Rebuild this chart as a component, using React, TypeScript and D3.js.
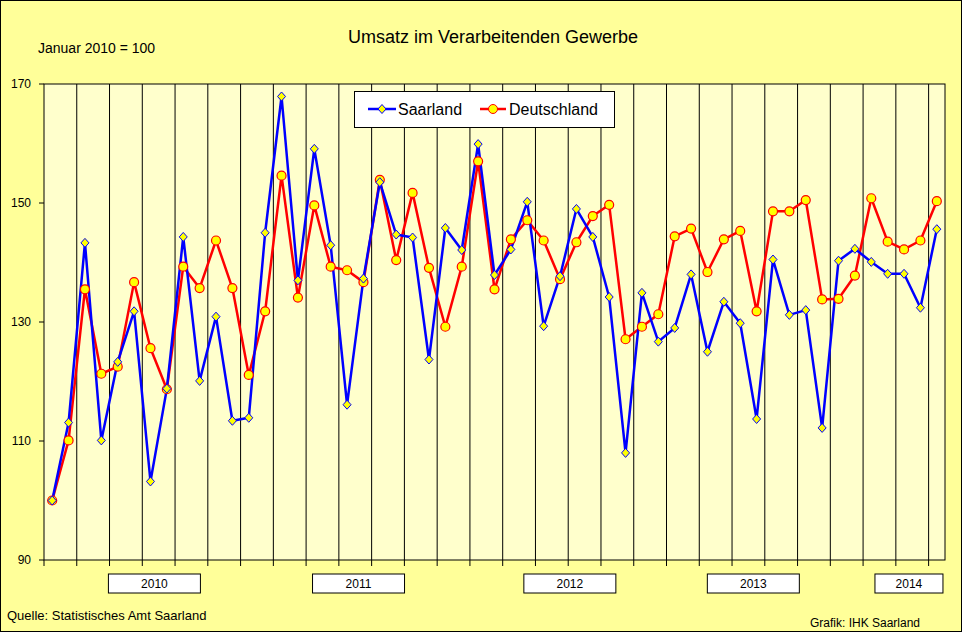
import React from 'react';
import * as d3 from 'd3';

// Monatswerte Jan 2010 .. Jul 2014 (Januar 2010 = 100)
const saarland = [100, 113.1, 143.3, 110.1, 123.3, 131.8, 103.2, 118.8, 144.3, 120.1, 130.9, 113.4,
  113.9, 145.0, 167.9, 137.0, 159.1, 142.9, 116.1, 137.3, 153.5, 144.7, 144.2, 123.7,
  145.8, 142.1, 159.9, 137.9, 142.2, 150.2, 129.3, 137.7, 149.0, 144.3, 134.2, 108.0,
  134.9, 126.7, 129.0, 138.0, 125.0, 133.4, 129.8, 113.7, 140.5, 131.2, 132.0, 112.2,
  140.3, 142.3, 140.1, 138.1, 138.1, 132.4, 145.6];
const deutschland = [100, 110.1, 135.5, 121.3, 122.5, 136.7, 125.6, 118.7, 139.3, 135.7, 143.7, 135.7,
  121.1, 131.8, 154.6, 134.1, 149.6, 139.3, 138.7, 136.7, 153.9, 140.4, 151.7, 139.1,
  129.2, 139.3, 157.0, 135.5, 143.9, 147.1, 143.7, 137.2, 143.4, 147.8, 149.7, 127.1,
  129.2, 131.3, 144.4, 145.7, 138.4, 143.9, 145.3, 131.8, 148.6, 148.6, 150.5, 133.8,
  133.9, 137.8, 150.8, 143.5, 142.2, 143.7, 150.3];
const yTicks = [90, 110, 130, 150, 170];
const yearLabels = ['2010', '2011', '2012', '2013', '2014'];
const yearPos = [6.24, 18.7, 31.6, 42.8, 52.3];

const W = 962, H = 632;
const left = 44, right = 945, top = 84, bottom = 560;
const n = saarland.length;
const font = 'Arial, "Liberation Sans", sans-serif';

const x = d3.scaleLinear().domain([-0.5, n - 0.5]).range([left, right]);
const y = d3.scaleLinear().domain([90, 170]).range([bottom, top]);
const line = d3.line<number>().x((_, i) => x(i)).y(d => y(d));

export default function App() {
  const grid = d3.range(1.5, n - 1, 2);
  const ticks = d3.range(-0.5, n, 2);
  return (
    <svg width={W} height={H} style={{ position: 'absolute', left: 0, top: 0 }} fontFamily={font}>
      <rect x={0.5} y={0.5} width={W - 1} height={H - 1} fill="#FFFF99" stroke="#000" />
      <text x={493} y={43} textAnchor="middle" fontSize={18}>Umsatz  im  Verarbeitenden  Gewerbe</text>
      <text x={38} y={53} fontSize={14}>Januar 2010 = 100</text>
      <rect x={left} y={top} width={right - left} height={bottom - top} fill="#FFFFCC" />
      {grid.map(g => (
        <line key={g} x1={x(g)} x2={x(g)} y1={top} y2={bottom} stroke="#000" strokeWidth={1} />
      ))}
      <rect x={left} y={top} width={right - left} height={bottom - top} fill="none" stroke="#000" />
      {ticks.map(t => (
        <line key={t} x1={x(t)} x2={x(t)} y1={bottom} y2={bottom + 6} stroke="#000" />
      ))}
      {yTicks.map(t => (
        <g key={t}>
          <line x1={left - 5} x2={left} y1={y(t)} y2={y(t)} stroke="#000" />
          <text x={31} y={y(t) + 4} textAnchor="end" fontSize={12}>{t}</text>
        </g>
      ))}
      {yearLabels.map((l, i) => {
        const w = l === '2014' ? 68 : 92;
        const cx = x(yearPos[i]);
        return (
          <g key={l}>
            <rect x={cx - w / 2} y={574} width={w} height={19} fill="#fff" stroke="#000" />
            <text x={cx} y={588} textAnchor="middle" fontSize={12}>{l}</text>
          </g>
        );
      })}
      <path d={line(deutschland) || ''} fill="none" stroke="#FF0000" strokeWidth={2.5} strokeLinejoin="round" />
      <path d={line(saarland) || ''} fill="none" stroke="#0000FF" strokeWidth={2.5} strokeLinejoin="round" />
      {deutschland.map((d, i) => (
        <circle key={i} cx={x(i)} cy={y(d)} r={4.5} fill="#FFFF00" stroke="#FF0000" strokeWidth={1.2} />
      ))}
      {saarland.map((d, i) => (
        <path key={i} d={`M${x(i)},${y(d) - 4.5}l4,4.5l-4,4.5l-4,-4.5z`} fill="#FFFF00" stroke="#0000FF" strokeWidth={1} />
      ))}
      <g>
        <rect x={354.5} y={91.5} width={260} height={36} fill="#fff" stroke="#000" />
        <line x1={368} x2={396} y1={109} y2={109} stroke="#0000FF" strokeWidth={2.5} />
        <path d="M382,104.5l4,4.5l-4,4.5l-4,-4.5z" fill="#FFFF00" stroke="#0000FF" />
        <text x={398} y={115} fontSize={16}>Saarland</text>
        <line x1={480} x2={506} y1={109} y2={109} stroke="#FF0000" strokeWidth={2.5} />
        <circle cx={493} cy={109} r={4.5} fill="#FFFF00" stroke="#FF0000" />
        <text x={509} y={115} fontSize={16}>Deutschland</text>
      </g>
      <text x={7} y={620} fontSize={13}>Quelle:  Statistisches Amt Saarland</text>
      <text x={810} y={627} fontSize={12}>Grafik: IHK Saarland</text>
    </svg>
  );
}
